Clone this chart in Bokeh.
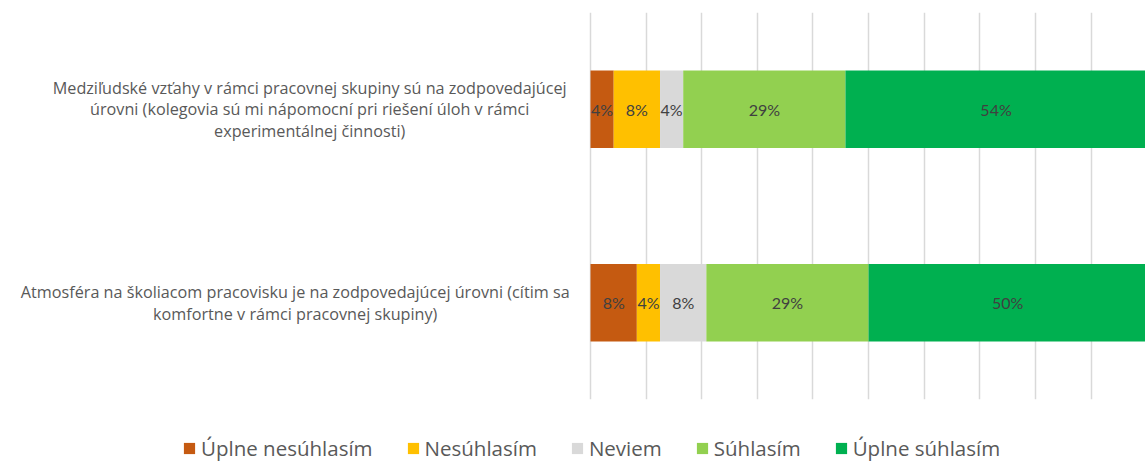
import numpy as np
from bokeh.plotting import figure
from bokeh.layouts import column
from bokeh.models import (ColumnDataSource, FactorRange, Range1d, FixedTicker,
                          Legend, LegendItem)
from bokeh.core.properties import value
from bokeh.embed import file_html
from bokeh.resources import INLINE

# ---- data ----
questions = ["Q2", "Q1"]  # bottom to top
question_labels = [
    "Atmosféra na školiacom pracovisku je na zodpovedajúcej úrovni (cítim sa\nkomfortne v rámci pracovnej skupiny)",
    "Medziľudské vzťahy v rámci pracovnej skupiny sú na zodpovedajúcej\núrovni (kolegovia sú mi nápomocní pri riešení úloh v rámci\nexperimentálnej činnosti)",
]
series = ["Úplne nesúhlasím", "Nesúhlasím", "Neviem", "Súhlasím", "Úplne súhlasím"]
uplne_nesuhlasim = [8.33, 4.17]
nesuhlasim = [4.17, 8.33]
neviem = [8.33, 4.17]
suhlasim = [29.17, 29.17]
uplne_suhlasim = [50.0, 54.17]
colors = ["#C55A11", "#FFC000", "#D9D9D9", "#92D050", "#00B050"]

values = [uplne_nesuhlasim, nesuhlasim, neviem, suhlasim, uplne_suhlasim]
data = {"q": questions}
for name, vals in zip(series, values):
    data[name] = vals
source = ColumnDataSource(data)

FONT = "Lato"
LABEL_FONT = "Open Sans"

# ---- main chart ----
p = figure(width=1145, height=405, y_range=FactorRange(*questions, range_padding=0),
           x_range=Range1d(-106.1, 99.8), output_backend="svg", toolbar_location=None,
           min_border_left=0, min_border_right=0, min_border_top=12,
           min_border_bottom=6)
p.outline_line_color = None
p.y_range.range_padding = 0

p.hbar_stack(series, y="q", height=0.4, color=colors, source=source, line_color=None)

p.xaxis.visible = False
p.yaxis.visible = False
p.ygrid.grid_line_color = None
p.xgrid.ticker = FixedTicker(ticks=list(range(0, 101, 10)))
p.xgrid.grid_line_color = "#D9D9D9"
p.xgrid.grid_line_width = 1.5
p.xgrid.level = "underlay"

# data labels
arr = np.array(values)
cum = np.cumsum(arr, axis=0)
starts = cum - arr
lx, ly, lt = [], [], []
for i in range(arr.shape[0]):
    for j, q in enumerate(questions):
        lx.append(starts[i, j] + arr[i, j] / 2)
        ly.append(q)
        lt.append(f"{round(arr[i, j]):.0f}%")
p.text(x=lx, y=ly, text=lt, text_align="center", text_baseline="middle",
       text_font=value(FONT), text_font_size="16px", text_color="#404040")

# category labels (left of the bars)
label_x = [-53.1, -50.5]
p.text(x=label_x, y=questions, text=question_labels, text_align="center",
       text_baseline="middle", text_font=value(LABEL_FONT), text_font_size="16.2px",
       text_color="#595959", text_line_height=0.98)

# ---- legend strip ----
lg = figure(width=1145, height=57, x_range=Range1d(0, 1), y_range=FactorRange(*questions),
            output_backend="svg", toolbar_location=None,
            min_border_left=0, min_border_right=0, min_border_top=0, min_border_bottom=0)
lg.outline_line_color = None
lg.xaxis.visible = False
lg.yaxis.visible = False
lg.grid.visible = False
lrs = lg.hbar_stack(series, y="q", height=0.4, color=colors, source=source, line_color=None)
for r in lrs:
    r.visible = False
legend = Legend(items=[LegendItem(label=s, renderers=[r]) for s, r in zip(series, lrs)],
                orientation="horizontal", location=(182, 0), click_policy="none",
                glyph_width=14, glyph_height=14, label_standoff=5, spacing=33,
                label_text_font=LABEL_FONT, label_text_font_size="20.5px",
                label_text_color="#595959", border_line_color=None,
                background_fill_alpha=0, padding=0, margin=0)
lg.add_layout(legend)

open("out.html", "w").write(file_html(column(p, lg, spacing=0), INLINE))
